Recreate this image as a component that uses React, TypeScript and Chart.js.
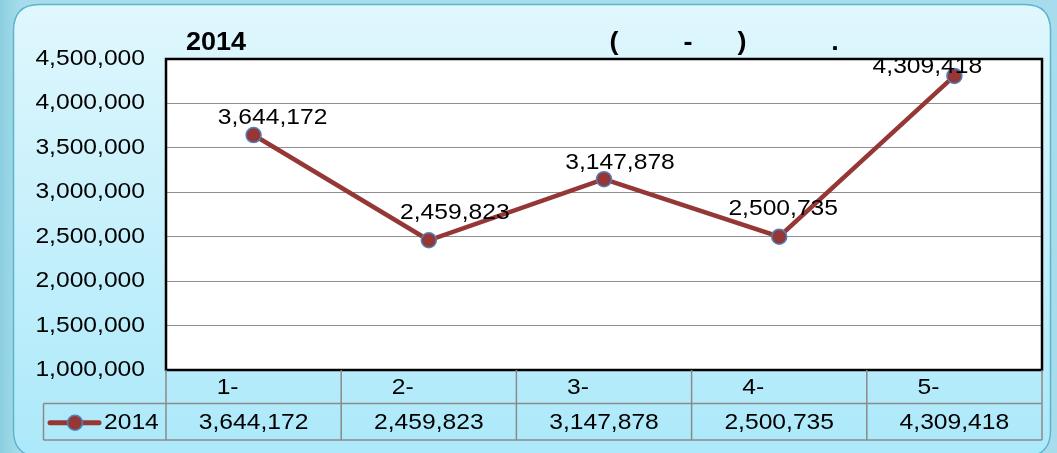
import React, { useEffect, useRef } from "react";
import { Chart, registerables } from "chart.js";

Chart.register(...registerables);

// ---- data ----
const categories: string[] = ["1-", "2-", "3-", "4-", "5-"];
const seriesName = "2014";
const seriesValues: number[] = [3644172, 2459823, 3147878, 2500735, 4309418];
const yMin = 1000000;
const yMax = 4500000;
const yStep = 500000;
const titleParts: string[] = ["2014", "(", "-", ")", "."];

// ---- styles ----
const LINE_COLOR = "#953735";
const MARKER_BORDER = "#4f81bd";
const FONT = "'Liberation Sans', Arial, sans-serif";
const SX = 1.12;
const titleX = [186, 614, 688, 742, 835];
const titleAlign: CanvasTextAlign[] = ["left", "center", "center", "center", "center"];
const labelNudge: [number, number][] = [
  [19, -17],
  [26, -27],
  [16, -16],
  [4, -28],
  [-27, -9],
];

const fmt = (v: number) => v.toLocaleString("en-US");

function sText(
  ctx: CanvasRenderingContext2D,
  text: string,
  x: number,
  y: number,
  align: CanvasTextAlign,
  font: string,
  sx = SX,
  color = "#000"
) {
  ctx.save();
  ctx.font = font;
  ctx.fillStyle = color;
  ctx.textBaseline = "middle";
  ctx.textAlign = align;
  ctx.translate(x, y);
  ctx.scale(sx, 1);
  ctx.fillText(text, 0, 0);
  ctx.restore();
}

function roundRect(ctx: CanvasRenderingContext2D, x: number, y: number, w: number, h: number, r: number) {
  ctx.beginPath();
  ctx.moveTo(x + r, y);
  ctx.lineTo(x + w - r, y);
  ctx.quadraticCurveTo(x + w, y, x + w, y + r);
  ctx.lineTo(x + w, y + h - r);
  ctx.quadraticCurveTo(x + w, y + h, x + w - r, y + h);
  ctx.lineTo(x + r, y + h);
  ctx.quadraticCurveTo(x, y + h, x, y + h - r);
  ctx.lineTo(x, y + r);
  ctx.quadraticCurveTo(x, y, x + r, y);
  ctx.closePath();
}

const decorPlugin = {
  id: "decor",
  beforeDraw(chart: any) {
    const { ctx, width, height, chartArea } = chart;
    ctx.save();
    const og = ctx.createLinearGradient(0, 0, 20, 0);
    og.addColorStop(0, "#8ccfe0");
    og.addColorStop(1, "#a6dceb");
    ctx.fillStyle = og;
    ctx.fillRect(0, 0, width, height);
    const pg = ctx.createLinearGradient(0, 4, 0, height);
    pg.addColorStop(0, "#e0f7fd");
    pg.addColorStop(1, "#ace9fa");
    roundRect(ctx, 13.5, 4.5, 1037, 452, 26);
    ctx.fillStyle = pg;
    ctx.fill();
    ctx.lineWidth = 1.5;
    ctx.strokeStyle = "#5cb5cc";
    ctx.stroke();
    ctx.fillStyle = "#ffffff";
    ctx.fillRect(chartArea.left, chartArea.top, chartArea.right - chartArea.left, chartArea.bottom - chartArea.top);
    ctx.restore();
  },
  beforeDatasetsDraw(chart: any) {
    const { ctx, chartArea } = chart;
    ctx.save();
    ctx.lineWidth = 2.5;
    ctx.strokeStyle = "#000";
    ctx.strokeRect(chartArea.left, chartArea.top, chartArea.right - chartArea.left, chartArea.bottom - chartArea.top);
    ctx.restore();
  },
  afterDatasetsDraw(chart: any) {
    const { ctx, chartArea } = chart;
    const xs = chart.scales.x;
    const ys = chart.scales.y;
    const font = `22px ${FONT}`;

    ys.ticks.forEach((t: any, i: number) => {
      const y = ys.getPixelForTick(i);
      sText(ctx, fmt(t.value), chartArea.left - 21, y, "right", font);
    });

    titleParts.forEach((p, i) => {
      sText(ctx, p, titleX[i], 43, titleAlign[i], `bold 25px ${FONT}`, 1.08);
    });

    const meta = chart.getDatasetMeta(0);
    meta.data.forEach((pt: any, i: number) => {
      const [dx, dy] = labelNudge[i];
      sText(ctx, fmt(seriesValues[i]), pt.x + dx, pt.y + dy, "center", font);
    });

    const top = chartArea.bottom;
    const r1 = top + 33.5;
    const r2 = top + 70;
    const n = categories.length;
    const step = (chartArea.right - chartArea.left) / n;
    const legendLeft = 43.5;
    ctx.save();
    ctx.strokeStyle = "#8a8a8a";
    ctx.lineWidth = 1.5;
    ctx.beginPath();
    for (let i = 0; i <= n; i++) {
      const x = chartArea.left + i * step;
      ctx.moveTo(x, top);
      ctx.lineTo(x, r2);
    }
    ctx.moveTo(legendLeft, r1);
    ctx.lineTo(chartArea.right, r1);
    ctx.moveTo(legendLeft, r2);
    ctx.lineTo(chartArea.right, r2);
    ctx.moveTo(legendLeft, r1);
    ctx.lineTo(legendLeft, r2);
    ctx.stroke();
    ctx.restore();

    categories.forEach((c, i) => {
      const cx = xs.getPixelForValue(i);
      sText(ctx, c, cx - 26, (top + r1) / 2 + 1, "center", font);
      sText(ctx, fmt(seriesValues[i]), cx, (r1 + r2) / 2 + 1, "center", font);
    });

    const ly = (r1 + r2) / 2 + 1;
    ctx.save();
    ctx.strokeStyle = LINE_COLOR;
    ctx.lineWidth = 5;
    ctx.lineCap = "round";
    ctx.beginPath();
    ctx.moveTo(50, ly);
    ctx.lineTo(99, ly);
    ctx.stroke();
    ctx.beginPath();
    ctx.arc(75, ly, 7.5, 0, Math.PI * 2);
    ctx.fillStyle = LINE_COLOR;
    ctx.fill();
    ctx.lineWidth = 1.5;
    ctx.strokeStyle = MARKER_BORDER;
    ctx.stroke();
    ctx.restore();
    sText(ctx, seriesName, 104, ly, "left", font);
  },
};

export default function App() {
  const ref = useRef<HTMLCanvasElement | null>(null);
  useEffect(() => {
    if (!ref.current) return;
    const chart = new Chart(ref.current, {
      type: "line",
      data: {
        labels: categories,
        datasets: [
          {
            label: seriesName,
            data: seriesValues,
            borderColor: LINE_COLOR,
            borderWidth: 4.5,
            tension: 0,
            pointRadius: 7.5,
            pointBackgroundColor: LINE_COLOR,
            pointBorderColor: MARKER_BORDER,
            pointBorderWidth: 1.5,
            clip: false as any,
          },
        ],
      },
      options: {
        animation: false,
        responsive: false,
        layout: { padding: { left: 0, top: 59, right: 15, bottom: 83 } },
        plugins: { legend: { display: false }, title: { display: false }, tooltip: { enabled: false } },
        scales: {
          x: { type: "category", offset: true, display: false, grid: { display: false } },
          y: {
            min: yMin,
            max: yMax,
            ticks: { stepSize: yStep, display: false },
            border: { display: false },
            grid: { color: "#8f8f8f", lineWidth: 1, drawTicks: false },
            afterFit: (s: any) => {
              s.width = 166;
            },
          },
        },
      },
      plugins: [decorPlugin],
    });
    return () => chart.destroy();
  }, []);
  return (
    <div style={{ position: "absolute", left: 0, top: 0, width: 1057, height: 453 }}>
      <canvas ref={ref} width={1057} height={453} style={{ display: "block" }} />
    </div>
  );
}
